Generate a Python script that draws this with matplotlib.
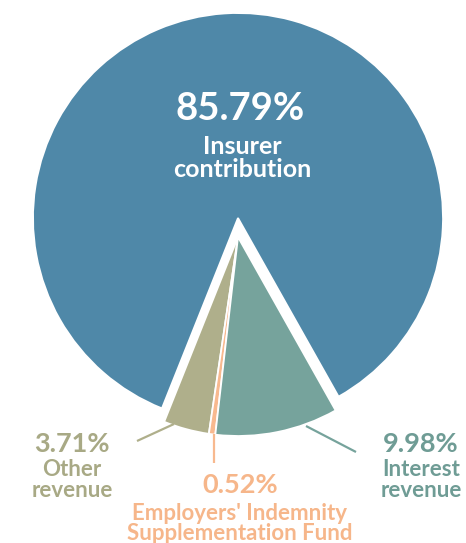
import matplotlib
matplotlib.use("Agg")
import matplotlib.pyplot as plt

# ---- data ----
categories = ["Insurer contribution", "Other revenue",
              "Employers' Indemnity Supplementation Fund", "Interest revenue"]
shares = [85.79, 3.71, 0.52, 9.98]
pct_labels = ["85.79%", "3.71%", "0.52%", "9.98%"]
name_lines = [["Insurer", "contribution"], ["Other", "revenue"],
              ["Employers' Indemnity", "Supplementation Fund"], ["Interest", "revenue"]]
colors = ["#4F88A8", "#AFAF8B", "#F8B98F", "#76A39C"]
text_colors = ["white", "#A8A985", "#F6B68A", "#6F9C95"]

W, H = 466, 543
fig = plt.figure(figsize=(W / 100, H / 100), dpi=100)
ax = fig.add_axes([0, 0, 1, 1])

def Y(y):
    return H - y

big_center = (238, Y(218))
small_center = (238, Y(237))
start = -90 + (100 - shares[0]) / 100 * 180 + 3.8

wedges, _ = ax.pie(shares, colors=colors, startangle=start, counterclock=True,
                   radius=205, center=big_center,
                   wedgeprops=dict(edgecolor="white", linewidth=1.3))
for w in wedges[1:]:
    w.set_center(small_center)
    w.set_radius(199)

ax.set_xlim(0, W)
ax.set_ylim(0, H)
ax.set_aspect("equal")
ax.axis("off")

# leader lines
ax.plot([137, 174], [Y(441), Y(424)], color=colors[1], lw=1.6, solid_capstyle="butt")
ax.plot([214, 214], [Y(434), Y(463)], color=colors[2], lw=1.6, solid_capstyle="butt")
ax.plot([306, 356], [Y(426), Y(452)], color=colors[3], lw=1.6, solid_capstyle="butt")

font = "Lato"
# main slice label
ax.text(240, Y(120), pct_labels[0], color=text_colors[0], fontsize=27.5,
        fontweight="bold", family=font, ha="center", va="baseline")
ax.text(242, Y(154), name_lines[0][0], color=text_colors[0], fontsize=18,
        fontweight="bold", family=font, ha="center", va="baseline")
ax.text(242, Y(177), name_lines[0][1], color=text_colors[0], fontsize=18,
        fontweight="bold", family=font, ha="center", va="baseline")

# outside labels
spec = {1: (72, [452, 476, 497]), 2: (240, [493, 520, 540]), 3: (421, [452, 476, 497])}
for i, (x, ys) in spec.items():
    ax.text(x, Y(ys[0]), pct_labels[i], color=text_colors[i], fontsize=19.5,
            fontweight="bold", family=font, ha="center", va="baseline")
    for line, yy in zip(name_lines[i], ys[1:]):
        ax.text(x, Y(yy), line, color=text_colors[i], fontsize=16,
                fontweight="bold", family=font, ha="center", va="baseline")

fig.savefig("out.png", dpi=100)
